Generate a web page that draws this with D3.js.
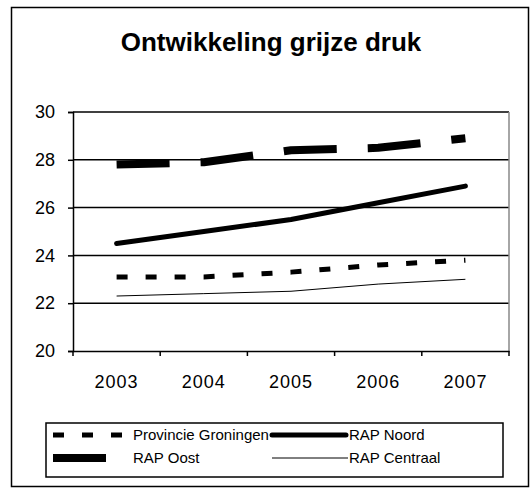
<!DOCTYPE html>
<html>
<head>
<meta charset="utf-8">
<script src="https://cdn.jsdelivr.net/npm/d3@7"></script>
<style>
  body { margin: 0; background: #fff; }
  text { font-family: "Liberation Sans", Arial, sans-serif; fill: #000; }
</style>
</head>
<body>
<div id="chart"></div>
<script>
// Data
var years = ["2003", "2004", "2005", "2006", "2007"];
var yTicks = [20, 22, 24, 26, 28, 30];
var provincieGroningen = [23.1, 23.1, 23.3, 23.6, 23.8];
var rapNoord = [24.5, 25.0, 25.5, 26.2, 26.9];
var rapOost = [27.8, 27.9, 28.4, 28.5, 28.9];
var rapCentraal = [22.3, 22.4, 22.5, 22.8, 23.0];

var series = [
    { name: "Provincie Groningen", values: provincieGroningen, width: 5, dash: "11,18", cap: "butt" },
    { name: "RAP Noord", values: rapNoord, width: 5, dash: null, cap: "round" },
    { name: "RAP Oost", values: rapOost, width: 8, dash: "53,31", cap: "butt" },
    { name: "RAP Centraal", values: rapCentraal, width: 1, dash: null, cap: "butt" }
];

const W = 531, H = 489;
const plot = { left: 73, right: 509, top: 112, bottom: 351 };

const svg = d3.select("#chart")
    .append("svg")
    .attr("width", W)
    .attr("height", H);

// outer frame
svg.append("rect")
    .attr("x", 11.5).attr("y", 7.5)
    .attr("width", 517).attr("height", 479)
    .attr("fill", "none").attr("stroke", "#000").attr("stroke-width", 1.5);

svg.append("text")
    .attr("x", 271).attr("y", 51)
    .attr("text-anchor", "middle")
    .style("font-size", "26px").style("font-weight", "bold")
    .text("Ontwikkeling grijze druk");

const x = d3.scaleBand()
    .domain(years)
    .range([plot.left, plot.right]);

const y = d3.scaleLinear()
    .domain([20, 30])
    .range([plot.bottom, plot.top]);

// gridlines
svg.append("g")
    .selectAll("line")
    .data(yTicks.filter(d => d > 20))
    .enter().append("line")
    .attr("x1", plot.left).attr("x2", plot.right)
    .attr("y1", d => y(d)).attr("y2", d => y(d))
    .attr("stroke", "#000").attr("stroke-width", 1.5);

// right edge of plot area
svg.append("line")
    .attr("x1", plot.right).attr("x2", plot.right)
    .attr("y1", plot.top).attr("y2", plot.bottom)
    .attr("stroke", "#888").attr("stroke-width", 1.5);

// y axis
const yAxis = svg.append("g")
    .attr("transform", `translate(${plot.left},0)`)
    .call(d3.axisLeft(y).tickValues(yTicks).tickSize(5).tickPadding(13));
yAxis.select(".domain").attr("stroke", "#000").attr("stroke-width", 1.5);
yAxis.selectAll(".tick line").attr("stroke", "#000").attr("stroke-width", 1.5);
yAxis.selectAll("text").style("font-size", "18px").attr("font-family", null);

// x axis, ticks between categories
const xAxis = svg.append("g")
    .attr("transform", `translate(0,${plot.bottom})`)
    .call(d3.axisBottom(x).tickSize(0).tickPadding(24));
xAxis.select(".domain").attr("stroke", "#000").attr("stroke-width", 1.5);
xAxis.selectAll("text").style("font-size", "18px").style("letter-spacing", "1px").attr("font-family", null);
xAxis.selectAll(".sep")
    .data(years.map(d => x(d)).concat([plot.right]))
    .enter().append("line")
    .attr("x1", d => d).attr("x2", d => d)
    .attr("y1", 0).attr("y2", 5)
    .attr("stroke", "#000").attr("stroke-width", 1.5);

const line = d3.line()
    .x((d, i) => x(years[i]) + x.bandwidth() / 2)
    .y(d => y(d));

svg.append("g")
    .selectAll("path")
    .data(series)
    .enter().append("path")
    .attr("d", d => line(d.values))
    .attr("fill", "none")
    .attr("stroke", "#000")
    .attr("stroke-width", d => d.width)
    .attr("stroke-dasharray", d => d.dash)
    .attr("stroke-linecap", d => d.cap)
    .attr("stroke-linejoin", "round");

// legend
svg.append("rect")
    .attr("x", 46).attr("y", 423)
    .attr("width", 457).attr("height", 54)
    .attr("fill", "#fff").attr("stroke", "#000").attr("stroke-width", 1.5);

const legendPos = [
    { x1: 53, x2: 124, tx: 133, y: 435 },
    { x1: 272, x2: 346, tx: 349, y: 435 },
    { x1: 53, x2: 106, tx: 133, y: 458 },
    { x1: 272, x2: 348, tx: 349, y: 458 }
];

const legend = svg.selectAll(".legend")
    .data(series)
    .enter().append("g")
    .attr("class", "legend");

legend.append("line")
    .attr("x1", (d, i) => legendPos[i].x1)
    .attr("x2", (d, i) => legendPos[i].x2)
    .attr("y1", (d, i) => legendPos[i].y)
    .attr("y2", (d, i) => legendPos[i].y)
    .attr("stroke", "#000")
    .attr("stroke-width", d => d.width)
    .attr("stroke-dasharray", d => d.dash)
    .attr("stroke-linecap", d => d.cap);

legend.append("text")
    .attr("x", (d, i) => legendPos[i].tx)
    .attr("y", (d, i) => legendPos[i].y)
    .attr("dy", "0.35em")
    .style("font-size", "15px")
    .text(d => d.name);
</script>
</body>
</html>
